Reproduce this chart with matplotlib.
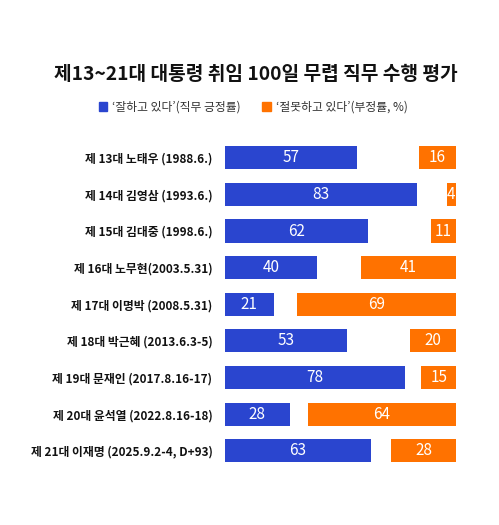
import matplotlib
matplotlib.use('Agg')
import matplotlib.pyplot as plt
from matplotlib.patches import Patch

plt.rcParams['font.family'] = ['Noto Sans CJK KR', 'DejaVu Sans']

labels = ['제 13대 노태우 (1988.6.)',
          '제 14대 김영삼 (1993.6.)',
          '제 15대 김대중 (1998.6.)',
          '제 16대 노무현(2003.5.31)',
          '제 17대 이명박 (2008.5.31)',
          '제 18대 박근혜 (2013.6.3-5)',
          '제 19대 문재인 (2017.8.16-17)',
          '제 20대 윤석열 (2022.8.16-18)',
          '제 21대 이재명 (2025.9.2-4, D+93)']
positive = [57, 83, 62, 40, 21, 53, 78, 28, 63]
negative = [16, 4, 11, 41, 69, 20, 15, 64, 28]

title = '제13~21대 대통령 취임 100일 무렵 직무 수행 평가'
legend_labels = ['‘잘하고 있다’(직무 긍정률)', '‘절못하고 있다’(부정률, %)']

BLUE = '#2A45CF'
ORANGE = '#FF7200'

W, H = 499, 525
fig = plt.figure(figsize=(W / 100, H / 100), dpi=100)
fig.patch.set_facecolor('white')

ax = fig.add_axes([225 / W, 1 - 469 / H, 231 / W, (469 - 139.5) / H])

ys = list(range(len(labels)))
ax.barh(ys, positive, height=0.63, color=BLUE)
ax.barh(ys, negative, left=[100 - v for v in negative], height=0.63, color=ORANGE)

for y, p, n in zip(ys, positive, negative):
    ax.text(p / 2, y, str(p), ha='center', va='center', color='white', fontsize=11)
    ax.text(100 - n / 2, y, str(n), ha='center', va='center', color='white', fontsize=11)

ax.set_xlim(0, 100)
ax.set_ylim(len(labels) - 0.5, -0.5)
ax.set_yticks(ys)
ax.set_yticklabels(labels, fontsize=8.5, fontweight='bold', color='#111111')
ax.tick_params(axis='y', length=0, pad=9)
ax.set_xticks([])
for s in ax.spines.values():
    s.set_visible(False)

fig.text(256 / W, 1 - 74 / H, title, ha='center', va='center',
         fontsize=13.8, fontweight='bold', color='#111111')

handles = [Patch(color=BLUE), Patch(color=ORANGE)]
fig.legend(handles, legend_labels, loc='center', bbox_to_anchor=(253 / W, 1 - 107 / H),
           ncol=2, frameon=False, fontsize=8.5, labelcolor='#333333',
           handlelength=0.75, handleheight=0.75, handletextpad=0.4, columnspacing=1.8)

fig.savefig('out.png', dpi=100, facecolor='white')
